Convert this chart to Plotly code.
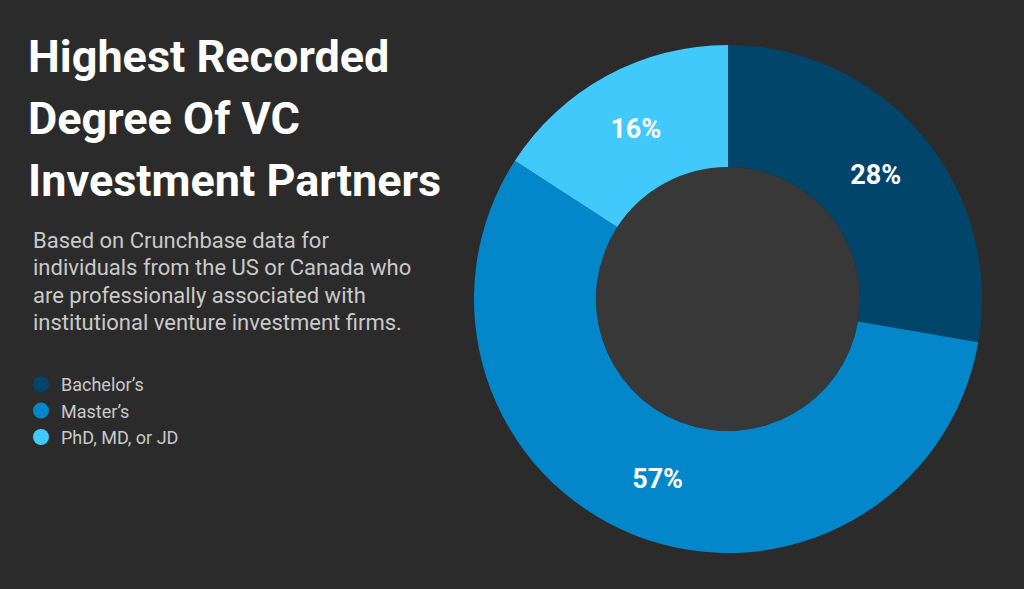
import plotly.graph_objects as go

categories = ["Bachelor’s", "Master’s", "PhD, MD, or JD"]
values = [28, 57, 16]
colors = ["#01456a", "#0387ca", "#41c9fb"]

title_lines = ["Highest Recorded", "Degree Of VC", "Investment Partners"]
subtitle_lines = [
    "Based on Crunchbase data for",
    "individuals from the US or Canada who",
    "are professionally associated with",
    "institutional venture investment firms.",
]

BG = "#2b2b2b"
W, H = 1024, 589

fig = go.Figure()

fig.add_trace(go.Pie(
    labels=categories,
    values=values,
    hole=0.52,
    sort=False,
    direction="clockwise",
    rotation=0,
    marker=dict(colors=colors, line=dict(width=0)),
    texttemplate="%{value}%",
    textposition="inside",
    insidetextorientation="horizontal",
    textfont=dict(family="Roboto", size=27, color="white", weight="bold"),
    domain=dict(x=[474 / W, 982 / W], y=[1 - 553 / H, 1 - 45 / H]),
    showlegend=False,
    hoverinfo="label+percent",
))

# legend entries with round markers
for cat, col in zip(categories, colors):
    fig.add_trace(go.Scatter(
        x=[None], y=[None], mode="markers", name=cat,
        marker=dict(symbol="circle", size=18, color=col),
        showlegend=True,
    ))

annotations = []
for i, line in enumerate(title_lines):
    annotations.append(dict(
        text=line, x=26 / W, y=1 - (56 + i * 62) / H, xref="paper", yref="paper",
        xanchor="left", yanchor="middle", showarrow=False,
        font=dict(family="Roboto", size=45, color="white", weight="bold"),
    ))
for i, line in enumerate(subtitle_lines):
    annotations.append(dict(
        text=line, x=31 / W, y=1 - (240 + i * 27.5) / H, xref="paper", yref="paper",
        xanchor="left", yanchor="middle", showarrow=False,
        font=dict(family="Roboto", size=22, color="#c9c9c9"),
    ))

fig.update_layout(
    width=W, height=H,
    paper_bgcolor=BG, plot_bgcolor=BG,
    margin=dict(l=0, r=0, t=0, b=0),
    xaxis=dict(visible=False), yaxis=dict(visible=False),
    annotations=annotations,
    shapes=[dict(type="circle", xref="paper", yref="paper",
                 x0=(728 - 132) / W, x1=(728 + 132) / W,
                 y0=1 - (299 + 132) / H, y1=1 - (299 - 132) / H,
                 fillcolor="#393838", line=dict(width=0), layer="below")],
    legend=dict(
        x=21 / W, y=1 - 366 / H, xanchor="left", yanchor="top",
        bgcolor="rgba(0,0,0,0)",
        font=dict(family="Roboto", size=18, color="#c9c9c9"),
        itemsizing="trace", tracegroupgap=0,
    ),
)

fig.write_html(
    "out.html",
    config={"displayModeBar": False},
    post_script="document.body.style.margin='0';document.body.style.background='%s';" % BG,
)
